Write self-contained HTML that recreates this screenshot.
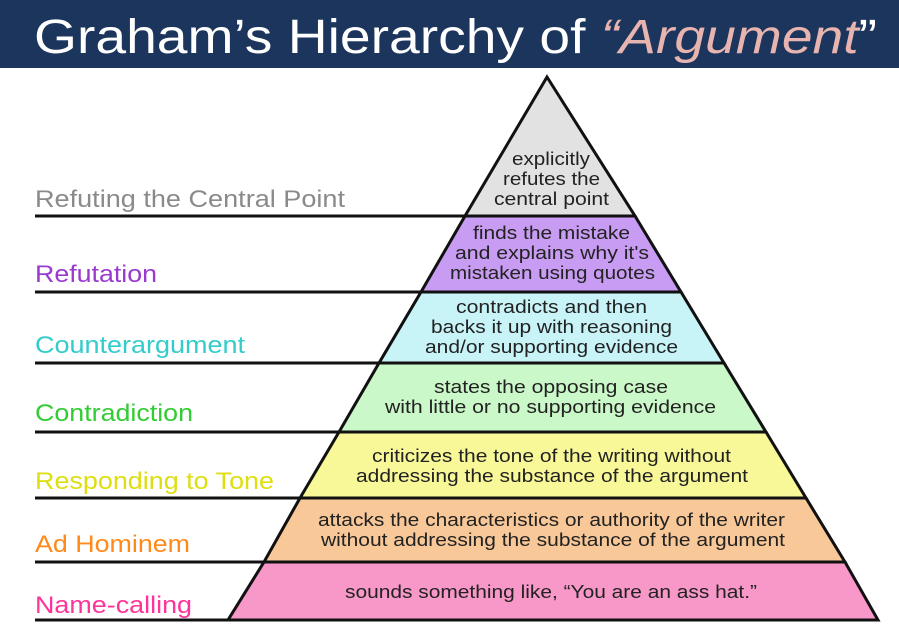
<!DOCTYPE html>
<html><head><meta charset="utf-8"><style>
html,body{margin:0;padding:0;background:#fff;width:899px;height:625px;overflow:hidden}
svg{display:block}
</style></head><body>
<svg width="899" height="625" xmlns="http://www.w3.org/2000/svg" font-family="Liberation Sans, Arial, sans-serif">
<rect x="0" y="0" width="899" height="68" fill="#1b355c"/>
<text x="34" y="53" font-size="48" fill="#fff" textLength="843" lengthAdjust="spacingAndGlyphs">Graham’s  Hierarchy of  <tspan fill="#e8b4b0" font-style="italic">“Argument</tspan>”</text>
<g stroke="#111" stroke-width="3">
<polygon points="547,77 635,216 465,216" fill="#e2e2e2"/>
<polygon points="465,216 635,216 681,292 421,292" fill="#c89cf2"/>
<polygon points="421,292 681,292 724,363 379,363" fill="#c8f4f8"/>
<polygon points="379,363 724,363 766,432 339,432" fill="#caf8c8"/>
<polygon points="339,432 766,432 806,498 300,498" fill="#f8f898"/>
<polygon points="300,498 806,498 845,562 264,562" fill="#f8c898"/>
<polygon points="264,562 845,562 878,620 228,620" fill="#f898c8"/>
<line x1="35" y1="216" x2="465" y2="216"/>
<line x1="35" y1="292" x2="421" y2="292"/>
<line x1="35" y1="363" x2="379" y2="363"/>
<line x1="35" y1="432" x2="339" y2="432"/>
<line x1="35" y1="498" x2="300" y2="498"/>
<line x1="35" y1="562" x2="264" y2="562"/>
<line x1="35" y1="620" x2="228" y2="620"/>
</g>
<g font-size="24">
<text x="35" y="207" fill="#8a8a8a" textLength="310" lengthAdjust="spacingAndGlyphs">Refuting the Central Point</text>
<text x="35" y="282" fill="#9a3ad0" textLength="122" lengthAdjust="spacingAndGlyphs">Refutation</text>
<text x="35" y="353" fill="#33cccc" textLength="210" lengthAdjust="spacingAndGlyphs">Counterargument</text>
<text x="35" y="421" fill="#33cc33" textLength="158" lengthAdjust="spacingAndGlyphs">Contradiction</text>
<text x="35" y="489" fill="#dede10" textLength="239" lengthAdjust="spacingAndGlyphs">Responding to Tone</text>
<text x="35" y="552" fill="#ff8a1a" textLength="155" lengthAdjust="spacingAndGlyphs">Ad Hominem</text>
<text x="35" y="613" fill="#ff3399" textLength="157" lengthAdjust="spacingAndGlyphs">Name-calling</text>
</g>
<g font-size="18" fill="#222">
<text x="512" y="165" textLength="78" lengthAdjust="spacingAndGlyphs">explicitly</text>
<text x="503" y="185" textLength="97" lengthAdjust="spacingAndGlyphs">refutes the</text>
<text x="494" y="205" textLength="115" lengthAdjust="spacingAndGlyphs">central point</text>
<text x="473" y="239" textLength="157" lengthAdjust="spacingAndGlyphs">finds the mistake</text>
<text x="455" y="259" textLength="194" lengthAdjust="spacingAndGlyphs">and explains why it's</text>
<text x="450" y="279" textLength="205" lengthAdjust="spacingAndGlyphs">mistaken using quotes</text>
<text x="456" y="313" textLength="191" lengthAdjust="spacingAndGlyphs">contradicts and then</text>
<text x="431" y="333" textLength="241" lengthAdjust="spacingAndGlyphs">backs it up with reasoning</text>
<text x="425" y="353" textLength="253" lengthAdjust="spacingAndGlyphs">and/or supporting evidence</text>
<text x="434" y="393" textLength="234" lengthAdjust="spacingAndGlyphs">states the opposing case</text>
<text x="385" y="413" textLength="331" lengthAdjust="spacingAndGlyphs">with little or no supporting evidence</text>
<text x="372" y="462" textLength="359" lengthAdjust="spacingAndGlyphs">criticizes the tone of the writing without</text>
<text x="356" y="482" textLength="392" lengthAdjust="spacingAndGlyphs">addressing the substance of the argument</text>
<text x="318" y="526" textLength="467" lengthAdjust="spacingAndGlyphs">attacks the characteristics or authority of the writer</text>
<text x="321" y="546" textLength="464" lengthAdjust="spacingAndGlyphs">without addressing the substance of the argument</text>
<text x="345" y="598" textLength="412" lengthAdjust="spacingAndGlyphs">sounds something like, “You are an ass hat.”</text>
</g>
</svg>
</body></html>
